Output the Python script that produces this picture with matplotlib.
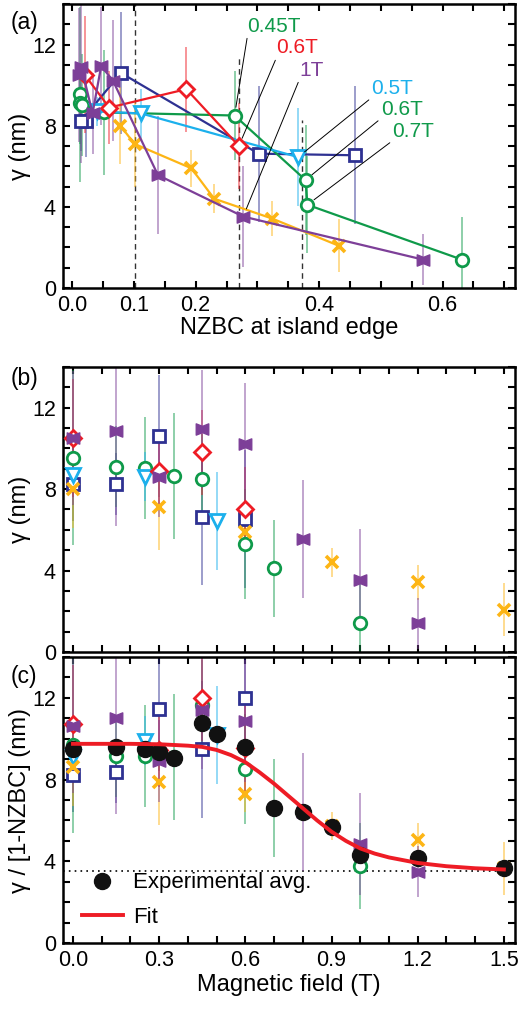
import matplotlib
matplotlib.use("Agg")
import matplotlib.pyplot as plt
from matplotlib.path import Path
from matplotlib.ticker import FixedLocator, FixedFormatter, MultipleLocator

plt.rcParams['font.family'] = ['Liberation Sans', 'DejaVu Sans']

# --- measured islands, one colour per island ---
# field (T), NZBC at island edge, gamma (nm), gamma error, gamma / (1 - NZBC)
green_field = [0.0, 0.15, 0.25, 0.35, 0.45, 0.6, 0.7, 1.0]
green_nzbc = [0.013, 0.012, 0.016, 0.052, 0.263, 0.378, 0.381, 0.631]
green_gamma = [9.54, 9.1, 9.02, 8.65, 8.5, 5.32, 4.1, 1.4]
green_err = [4.3, 2.0, 2.5, 3.1, 2.2, 2.7, 2.4, 2.1]
green_norm = [9.69, 9.15, 9.15, 9.1, 11.65, 8.51, 6.6, 3.78]

red_field = [0.0, 0.3, 0.45, 0.6]
red_nzbc = [0.02, 0.06, 0.185, 0.27]
red_gamma = [10.52, 8.89, 9.8, 7.0]
red_err = [2.9, 1.8, 2.1, 2.1]
red_norm = [10.72, 9.45, 12.01, 9.55]

navy_field = [0.0, 0.15, 0.3, 0.45, 0.6]
navy_nzbc = [0.022, 0.015, 0.079, 0.302, 0.458]
navy_gamma = [8.25, 8.25, 10.6, 6.62, 6.54]
navy_err = [1.8, 1.5, 3.0, 3.35, 3.4]
navy_norm = [8.22, 8.35, 11.44, 9.48, 12.01]

cyan_field = [0.0, 0.25, 0.5]
cyan_nzbc = [0.04, 0.112, 0.366]
cyan_gamma = [8.7, 8.6, 6.45]
cyan_err = [0.7, 1.2, 2.4]
cyan_norm = [9.12, 9.89, 10.2]

orange_field = [0.0, 0.3, 0.6, 0.9, 1.2, 1.5]
orange_nzbc = [0.078, 0.101, 0.193, 0.23, 0.324, 0.432]
orange_gamma = [8.0, 7.1, 5.9, 4.4, 3.42, 2.08]
orange_err = [1.9, 2.1, 0.9, 0.7, 0.85, 1.3]
orange_norm = [8.63, 7.86, 7.29, 5.72, 5.03, 3.65]

purple_field = [0.0, 0.15, 0.3, 0.45, 0.6, 0.8, 1.0, 1.2]
purple_nzbc = [0.011, 0.015, 0.033, 0.047, 0.066, 0.139, 0.277, 0.568]
purple_gamma = [10.5, 10.87, 8.61, 10.94, 10.22, 5.56, 3.52, 1.4]
purple_err = [3.3, 4.7, 2.0, 2.9, 3.0, 2.9, 2.5, 1.25]
purple_norm = [10.62, 11.03, 8.91, 11.41, 10.87, 6.42, 4.84, 3.5]

# average over islands and the fit through it
avg_field = [0.0, 0.15, 0.25, 0.3, 0.35, 0.45, 0.5, 0.6, 0.7, 0.8, 0.9, 1.0, 1.2, 1.5]
avg_norm = [9.48, 9.58, 9.48, 9.36, 9.04, 10.78, 10.22, 9.61, 6.59, 6.42, 5.69, 4.3, 4.14, 3.68]

fit_field = [0.0, 0.1, 0.2, 0.3, 0.4, 0.45, 0.5, 0.55, 0.6, 0.65, 0.7, 0.75,
             0.8, 0.85, 0.9, 0.95, 1.0, 1.05, 1.1, 1.2, 1.3, 1.4, 1.5]
fit_norm = [9.75, 9.75, 9.75, 9.73, 9.66, 9.6, 9.45, 9.2, 8.85, 8.35, 7.8, 7.2,
            6.6, 6.0, 5.45, 5.0, 4.63, 4.38, 4.19, 3.92, 3.76, 3.66, 3.6]
floor_level = 3.55

# dashed guides in (a): NZBC position and height
guide_nzbc = [0.101, 0.27, 0.373]
guide_top = [14.0, 11.5, 8.3]

# field labels in (a): text, colour, text position, point
ann_text = ['0.45T', '0.6T', '1T', '0.5T', '0.6T', '0.7T']
ann_xytext = [(0.284, 12.44), (0.331, 11.36), (0.368, 10.27),
              (0.485, 9.38), (0.5, 8.35), (0.519, 7.26)]
ann_xy = [(0.263, 8.5), (0.27, 7.0), (0.277, 3.52),
          (0.366, 6.45), (0.378, 5.32), (0.381, 4.1)]

GREEN = '#0f9a4a'
RED = '#ee1c25'
NAVY = '#2e3192'
CYAN = '#1cb0ec'
ORANGE = '#fdb515'
PURPLE = '#7d3f98'

ann_color = [GREEN, RED, PURPLE, CYAN, GREEN, GREEN]

bowtie = Path([(-1, -0.9), (-1, 0.9), (0, 0.5), (1, 0.9), (1, -0.9), (0, -0.5), (-1, -0.9)],
              [Path.MOVETO, Path.LINETO, Path.LINETO, Path.LINETO,
               Path.LINETO, Path.LINETO, Path.CLOSEPOLY])

# drawing order: later entries sit on top
series = [
    dict(field=navy_field, nzbc=navy_nzbc, gamma=navy_gamma, err=navy_err,
         norm=navy_norm, color=NAVY, marker='s', ms=8.5, mfc='white', mew=2.0),
    dict(field=green_field, nzbc=green_nzbc, gamma=green_gamma, err=green_err,
         norm=green_norm, color=GREEN, marker='o', ms=9, mfc='white', mew=2.0),
    dict(field=cyan_field, nzbc=cyan_nzbc, gamma=cyan_gamma, err=cyan_err,
         norm=cyan_norm, color=CYAN, marker='v', ms=9.5, mfc='white', mew=2.0),
    dict(field=orange_field, nzbc=orange_nzbc, gamma=orange_gamma, err=orange_err,
         norm=orange_norm, color=ORANGE, marker='x', ms=9, mfc=ORANGE, mew=2.6),
    dict(field=red_field, nzbc=red_nzbc, gamma=red_gamma, err=red_err,
         norm=red_norm, color=RED, marker='D', ms=8.5, mfc='white', mew=2.0),
    dict(field=purple_field, nzbc=purple_nzbc, gamma=purple_gamma, err=purple_err,
         norm=purple_norm, color=PURPLE, marker=bowtie, ms=9, mfc=PURPLE, mew=1.0),
]

TICK_FS = 15.5
LABEL_FS = 17
ANN_FS = 15
LEG_FS = 16


def style_axes(ax):
    for sp in ax.spines.values():
        sp.set_linewidth(1.8)
    ax.tick_params(which='both', direction='in', top=True, right=True,
                   length=5, width=1.5, labelsize=TICK_FS, pad=5)
    ax.set_ylim(0, 14)
    ax.yaxis.set_major_locator(FixedLocator([0, 4, 8, 12]))
    ax.yaxis.set_minor_locator(MultipleLocator(1))
    ax.tick_params(which='minor', length=5, width=1.5)


def draw_points(ax, xkey, ykey, connect):
    for s in series:
        ax.errorbar(s[xkey], s[ykey], yerr=s['err'], fmt='none', ecolor=s['color'],
                    elinewidth=1.1, alpha=0.6, capsize=0, zorder=2)
    for s in series:
        ax.plot(s[xkey], s[ykey], color=s['color'], lw=1.6 if connect else 0,
                marker=s['marker'], ms=s['ms'], mfc=s['mfc'], mec=s['color'],
                mew=s['mew'], zorder=3)


fig = plt.figure(figsize=(5.2, 10.1), dpi=100)
ax_a = fig.add_axes([0.121, 0.7149, 0.869, 0.2812])
ax_b = fig.add_axes([0.121, 0.3545, 0.869, 0.2822])
ax_c = fig.add_axes([0.121, 0.0663, 0.869, 0.2832])

# (a) gamma against NZBC
for xg, top in zip(guide_nzbc, guide_top):
    ax_a.plot([xg, xg], [0, top], color='#333333', lw=1.0, ls=(0, (4, 3)), zorder=1)
draw_points(ax_a, 'nzbc', 'gamma', True)
for txt, col, xyt, xy in zip(ann_text, ann_color, ann_xytext, ann_xy):
    ax_a.annotate(txt, xy=xy, xytext=xyt, color=col, fontsize=ANN_FS,
                  ha='left', va='bottom', zorder=5,
                  arrowprops=dict(arrowstyle='-', color='black', lw=0.7,
                                  shrinkA=0, shrinkB=6, relpos=(0, 0)))
style_axes(ax_a)
ax_a.set_xlim(-0.015, 0.717)
ax_a.xaxis.set_major_locator(FixedLocator([0.0, 0.05, 0.1, 0.15, 0.2, 0.25, 0.3, 0.35,
                                           0.4, 0.45, 0.5, 0.55, 0.6, 0.65, 0.7]))
ax_a.xaxis.set_major_formatter(FixedFormatter(['0.0', '', '0.1', '', '0.2', '', '', '',
                                               '0.4', '', '', '', '0.6', '', '']))
ax_a.set_xlabel('NZBC at island edge', fontsize=LABEL_FS, labelpad=1)
ax_a.set_ylabel('γ (nm)', fontsize=LABEL_FS, labelpad=1)

# (b) gamma against field
draw_points(ax_b, 'field', 'gamma', False)
style_axes(ax_b)
ax_b.set_ylabel('γ (nm)', fontsize=LABEL_FS, labelpad=1)

# (c) gamma / (1 - NZBC) against field
ax_c.plot([-0.035, 1.5], [floor_level, floor_level], color='black', lw=1.2,
          ls=(0, (1, 2.5)), zorder=1)
draw_points(ax_c, 'field', 'norm', False)
ax_c.plot(avg_field, avg_norm, ls='none', marker='o', ms=11.5, color='#111111',
          zorder=4, label='Experimental avg.')
ax_c.plot(fit_field, fit_norm, color='#ee1c25', lw=2.8, zorder=5, label='Fit')
style_axes(ax_c)
ax_c.set_xlabel('Magnetic field (T)', fontsize=LABEL_FS, labelpad=2)
ax_c.set_ylabel('γ / [1-NZBC] (nm)', fontsize=LABEL_FS, labelpad=1)
ax_c.legend(loc='center left', bbox_to_anchor=(0.042, 0.15), frameon=False,
            fontsize=LEG_FS, handlelength=1.85, handletextpad=0.45,
            labelspacing=0.6, borderpad=0, borderaxespad=0)

for ax in (ax_b, ax_c):
    ax.set_xlim(-0.035, 1.538)
    ax.xaxis.set_major_locator(MultipleLocator(0.3))
    ax.xaxis.set_minor_locator(MultipleLocator(0.1))
    ax.xaxis.set_major_formatter(plt.FormatStrFormatter('%.1f'))
ax_b.tick_params(axis='x', labelbottom=False)

fig.text(0.02, 0.989, '(a)', fontsize=16.5, va='top')
fig.text(0.02, 0.637, '(b)', fontsize=16.5, va='top')
fig.text(0.02, 0.342, '(c)', fontsize=16.5, va='top')

fig.savefig('out.png', dpi=100)
